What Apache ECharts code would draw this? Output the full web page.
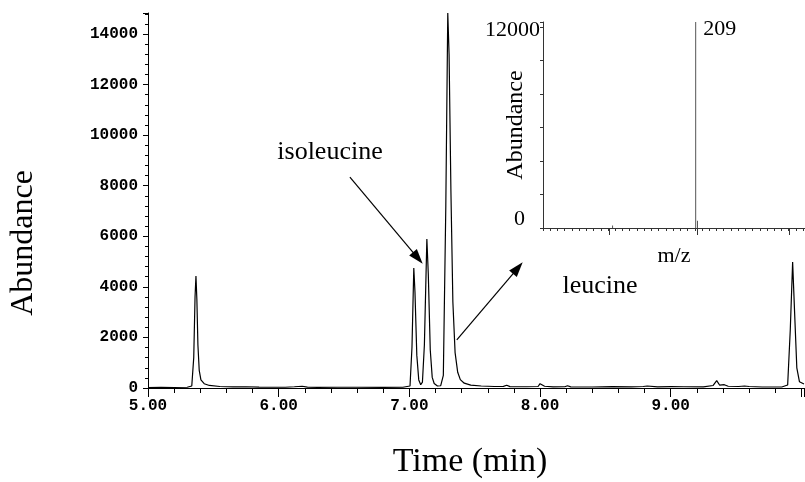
<!DOCTYPE html>
<html>
<head>
<meta charset="UTF-8">
<script src="https://cdn.jsdelivr.net/npm/echarts@6/dist/echarts.min.js"></script>
</head>
<body style="margin:0;background:#fff">
<div id="chart" style="width:805px;height:482px"></div>
<script>
// chromatogram (time in min, abundance)
var times = [5.00, 5.10, 5.20, 5.30, 5.335, 5.35, 5.36, 5.367, 5.374, 5.382, 5.392, 5.405, 5.43, 5.47, 5.55, 5.65, 5.75, 5.85, 5.95,
  6.05, 6.12, 6.18, 6.22, 6.30, 6.45, 6.60, 6.80, 6.95, 7.005,
  7.02, 7.034, 7.043, 7.057, 7.072, 7.087, 7.10, 7.115, 7.134, 7.145, 7.16, 7.175, 7.19, 7.215, 7.24,
  7.26, 7.279, 7.294, 7.304, 7.318, 7.333, 7.35, 7.37, 7.39, 7.42, 7.47, 7.55, 7.65, 7.72, 7.745, 7.77,
  7.90, 7.985, 8.000, 8.013, 8.035, 8.10, 8.19, 8.21, 8.235, 8.40, 8.55, 8.70, 8.79, 8.82, 8.90, 9.00,
  9.10, 9.25, 9.325, 9.352, 9.375, 9.41, 9.44, 9.52, 9.565, 9.58, 9.60, 9.70, 9.85,
  9.895, 9.915, 9.933, 9.948, 9.965, 9.985, 10.02];
var abundance = [20, 25, 20, 30, 80, 1200, 3600, 4430, 3500, 1700, 700, 320, 170, 100, 60, 45, 50, 35, 30,
  30, 50, 70, 35, 25, 30, 30, 25, 30, 80,
  1600, 4745, 3800, 1300, 320, 130, 230, 1700, 5890, 4500, 1500, 420, 180, 80, 90,
  500, 7200, 14830, 13200, 7800, 3400, 1400, 620, 330, 190, 115, 80, 60, 65, 110, 55,
  50, 60, 170, 210, 70, 45, 50, 90, 45, 40, 55, 45, 60, 80, 45, 55,
  50, 45, 100, 290, 110, 130, 70, 60, 80, 130, 60, 40, 40,
  120, 2300, 4980, 3000, 800, 250, 160];

// inset mass spectrum (m/z, abundance)
var mz = [117, 209, 211];
var mzAbundance = [150, 12300, 430];

var xTicks = [5, 6, 7, 8, 9];
var yTicks = [0, 2000, 4000, 6000, 8000, 10000, 12000, 14000];

var serif = '"Liberation Serif", "Times New Roman", serif';
var mono = '"Liberation Mono", "Courier New", monospace';

var chromData = [];
for (var i = 0; i < times.length; i++) {
    chromData.push([times[i], abundance[i]]);
}
var specData = [];
for (var j = 0; j < mz.length; j++) {
    var item = {value: [mz[j], mzAbundance[j]]};
    if (mz[j] === 209) {
        item.label = {
            show: true,
            position: [8, -4],
            formatter: '209',
            color: '#000',
            fontFamily: serif,
            fontSize: 22
        };
    }
    specData.push(item);
}

var chart = echarts.init(document.getElementById('chart'));
var option = {
    animation: false,
    backgroundColor: '#fff',
    grid: [
        {left: 148, top: 13, width: 656, height: 375, outerBoundsMode: 'none'},
        {left: 543, top: 22, width: 262, height: 206, outerBoundsMode: 'none'}
    ],
    xAxis: [
        {
            gridIndex: 0,
            type: 'value',
            min: 5,
            max: 10.02,
            interval: 1,
            axisLine: {lineStyle: {color: '#000', width: 1}},
            axisTick: {length: 9, lineStyle: {color: '#000'}},
            minorTick: {show: true, splitNumber: 5, length: 5, lineStyle: {color: '#000'}},
            splitLine: {show: false},
            axisLabel: {
                margin: 10,
                color: '#000',
                fontFamily: mono,
                fontWeight: 'bold',
                fontSize: 16,
                formatter: function (v) {
                    return xTicks.indexOf(v) >= 0 ? v.toFixed(2) : '';
                }
            }
        },
        {
            gridIndex: 1,
            type: 'value',
            position: 'bottom',
            min: 40,
            max: 330,
            interval: 8,
            name: 'm/z',
            nameLocation: 'middle',
            nameGap: 17,
            nameMoveOverlap: false,
            nameTextStyle: {fontFamily: serif, fontSize: 22, color: '#000'},
            axisLine: {lineStyle: {color: '#333', width: 1}},
            axisTick: {length: 3, lineStyle: {color: '#333'}},
            splitLine: {show: false},
            axisLabel: {show: false}
        },
        {
            gridIndex: 1,
            type: 'value',
            position: 'bottom',
            min: 40,
            max: 330,
            axisLine: {show: false},
            axisTick: {length: 7, customValues: [113, 211, 313], lineStyle: {color: '#333'}},
            splitLine: {show: false},
            axisLabel: {show: false}
        }
    ],
    yAxis: [
        {
            gridIndex: 0,
            type: 'value',
            min: 0,
            max: 14830,
            interval: 2000,
            axisLine: {show: true, lineStyle: {color: '#000', width: 1}},
            axisTick: {show: true, length: 5, lineStyle: {color: '#000'}},
            minorTick: {show: true, splitNumber: 5, length: 3, lineStyle: {color: '#000'}},
            splitLine: {show: false},
            axisLabel: {
                margin: 10,
                color: '#000',
                fontFamily: mono,
                fontWeight: 'bold',
                fontSize: 16,
                formatter: function (v) {
                    return yTicks.indexOf(v) >= 0 ? String(v) : '';
                }
            }
        },
        {
            gridIndex: 1,
            type: 'value',
            min: 0,
            max: 12300,
            interval: 2000,
            name: 'Abundance',
            nameLocation: 'middle',
            nameRotate: 90,
            nameGap: 15,
            nameMoveOverlap: false,
            nameTextStyle: {fontFamily: serif, fontSize: 24, color: '#000'},
            axisLine: {show: true, lineStyle: {color: '#333', width: 1}},
            axisTick: {show: true, length: 3, lineStyle: {color: '#333'}},
            splitLine: {show: false},
            axisLabel: {
                margin: 3,
                formatter: function (v) {
                    if (v === 0) return '{a|0}';
                    if (v === 12000) return '{b|12000}';
                    return '';
                },
                rich: {
                    a: {fontFamily: serif, fontSize: 22, color: '#000', padding: [0, 15, 18, 0]},
                    b: {fontFamily: serif, fontSize: 22, color: '#000', padding: [6, 0, 0, 0]}
                }
            }
        }
    ],
    series: [
        {
            type: 'line',
            xAxisIndex: 0,
            yAxisIndex: 0,
            data: chromData,
            showSymbol: false,
            symbol: 'none',
            lineStyle: {color: '#000', width: 1.2},
            markLine: {
                silent: true,
                symbol: ['none', 'triangle'],
                symbolSize: [10, 15],
                lineStyle: {color: '#000', width: 1.2, type: 'solid'},
                label: {show: false},
                data: [
                    [{coord: [6.545, 8340]}, {coord: [7.065, 5140]}],
                    [{coord: [7.363, 1900]}, {coord: [7.83, 4745]}]
                ]
            }
        },
        {
            type: 'bar',
            xAxisIndex: 1,
            yAxisIndex: 1,
            data: specData,
            barWidth: 1,
            itemStyle: {color: '#555'}
        }
    ],
    graphic: [
        {
            type: 'text',
            style: {text: 'isoleucine', x: 330, y: 152, font: '26px ' + serif, fill: '#000', align: 'center', verticalAlign: 'middle'}
        },
        {
            type: 'text',
            style: {text: 'leucine', x: 600, y: 286, font: '26px ' + serif, fill: '#000', align: 'center', verticalAlign: 'middle'}
        },
        {
            type: 'text',
            x: 24,
            y: 243,
            rotation: Math.PI / 2,
            style: {text: 'Abundance', x: 0, y: 0, font: '32px ' + serif, fill: '#000', align: 'center', verticalAlign: 'middle'}
        },
        {
            type: 'text',
            style: {text: 'Time (min)', x: 470, y: 462, font: '34px ' + serif, fill: '#000', align: 'center', verticalAlign: 'middle'}
        }
    ]
};
chart.setOption(option);
</script>
</body>
</html>
